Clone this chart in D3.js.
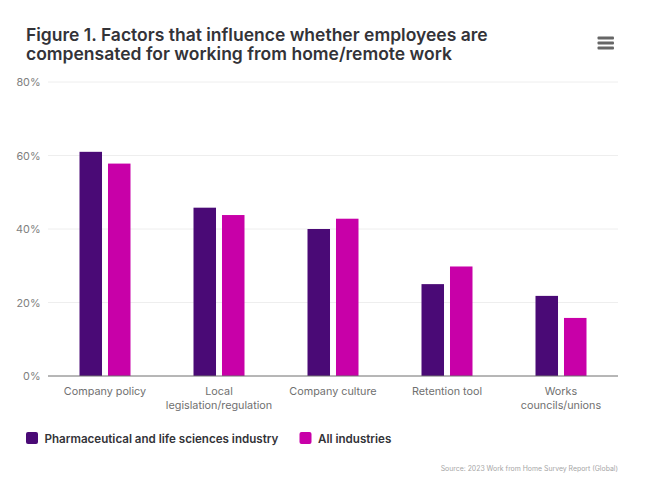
<!DOCTYPE html>
<html>
<head>
<meta charset="utf-8">
<script src="https://cdn.jsdelivr.net/npm/d3@7"></script>
<style>
  html, body { margin: 0; padding: 0; background: #fff; }
  text { font-family: Inter, "Noto Sans", sans-serif; }
</style>
</head>
<body>
<svg id="chart" width="650" height="483"></svg>
<script>
var titleLines = ["Figure 1. Factors that influence whether employees are", "compensated for working from home/remote work"];
var categories = [["Company policy"], ["Local", "legislation/regulation"], ["Company culture"], ["Retention tool"], ["Works", "councils/unions"]];
var seriesNames = ["Pharmaceutical and life sciences industry", "All industries"];
var seriesColors = ["#4a0a76", "#c800a8"];
var pharma = [61, 45.8, 40, 25, 21.8];
var allIndustries = [57.8, 43.8, 42.8, 29.8, 15.8];
var yTicks = [0, 20, 40, 60, 80];
var source = "Source: 2023 Work from Home Survey Report (Global)";

var svg = d3.select("#chart");

var margin = {left: 48, right: 32, top: 82, bottom: 107},
	width = 650 - margin.left - margin.right,
	height = 483 - margin.top - margin.bottom;

var x = d3.scaleBand()
	.domain(d3.range(categories.length))
	.range([margin.left, margin.left + width]);

var x1 = d3.scaleBand()
	.domain([0, 1])
	.range([x.bandwidth() / 2 - 25.5, x.bandwidth() / 2 + 25.5])
	.paddingInner(0.21);

var y = d3.scaleLinear()
	.domain([0, 80])
	.range([margin.top + height, margin.top]);

// title
svg.append("g").selectAll("text")
	.data(titleLines)
	.enter()
	.append("text")
	.attr("x", 26)
	.attr("y", (d, i) => 40.5 + i * 19.5)
	.attr("font-size", "17.5px")
	.attr("font-weight", 600)
	.attr("fill", "#333338")
	.text(d => d);

// menu icon
svg.append("g").selectAll("rect")
	.data([0, 1, 2])
	.enter()
	.append("rect")
	.attr("x", 597.5)
	.attr("y", d => 36.5 + d * 5)
	.attr("width", 16.5)
	.attr("height", 3)
	.attr("rx", 1)
	.attr("fill", "#666666");

// gridlines + y labels
var yAxis = svg.append("g");
yAxis.selectAll("line")
	.data(yTicks.filter(d => d > 0))
	.enter()
	.append("line")
	.attr("x1", margin.left)
	.attr("x2", margin.left + width)
	.attr("y1", d => y(d))
	.attr("y2", d => y(d))
	.attr("stroke", "#eeeeee")
	.attr("stroke-width", 1);

yAxis.selectAll("text")
	.data(yTicks)
	.enter()
	.append("text")
	.attr("x", 40.5)
	.attr("y", d => y(d) + 4)
	.attr("text-anchor", "end")
	.attr("font-size", "10.8px")
	.attr("fill", "#808080")
	.text(d => d + "%");

// bars
var groups = svg.append("g").selectAll("g")
	.data(categories.map((c, i) => [pharma[i], allIndustries[i]]))
	.enter()
	.append("g")
	.attr("transform", (d, i) => "translate(" + x(i) + ",0)");

groups.selectAll("rect")
	.data(d => d)
	.enter()
	.append("rect")
	.attr("x", (d, i) => x1(i))
	.attr("y", d => y(d))
	.attr("width", x1.bandwidth())
	.attr("height", d => y(0) - y(d))
	.attr("fill", (d, i) => seriesColors[i]);

// baseline
svg.append("line")
	.attr("x1", margin.left)
	.attr("x2", margin.left + width)
	.attr("y1", y(0))
	.attr("y2", y(0))
	.attr("stroke", "#6e6e6e")
	.attr("stroke-width", 1);

// category labels
var xLabels = svg.append("g").selectAll("text")
	.data(categories)
	.enter()
	.append("text")
	.attr("text-anchor", "middle")
	.attr("font-size", "10.8px")
	.attr("fill", "#707070");

xLabels.selectAll("tspan")
	.data((d, i) => d.map(line => ({line: line, i: i})))
	.enter()
	.append("tspan")
	.attr("x", d => x(d.i) + x.bandwidth() / 2)
	.attr("y", (d, j) => 394.5 + j * 14)
	.text(d => d.line);

// legend
var legendX = [26, 299.5];
var legend = svg.append("g").selectAll("g")
	.data(seriesNames)
	.enter()
	.append("g")
	.attr("transform", (d, i) => "translate(" + legendX[i] + ",432)");

legend.append("rect")
	.attr("width", 12)
	.attr("height", 12)
	.attr("rx", 2)
	.attr("fill", (d, i) => seriesColors[i]);

legend.append("text")
	.attr("x", 18.5)
	.attr("y", 10.5)
	.attr("font-size", "11.6px")
	.attr("font-weight", 600)
	.attr("fill", "#333338")
	.text(d => d);

// source
svg.append("text")
	.attr("x", 618)
	.attr("y", 470.5)
	.attr("text-anchor", "end")
	.attr("font-size", "6.9px")
	.attr("fill", "#a6a6a6")
	.text(source);
</script>
</body>
</html>
